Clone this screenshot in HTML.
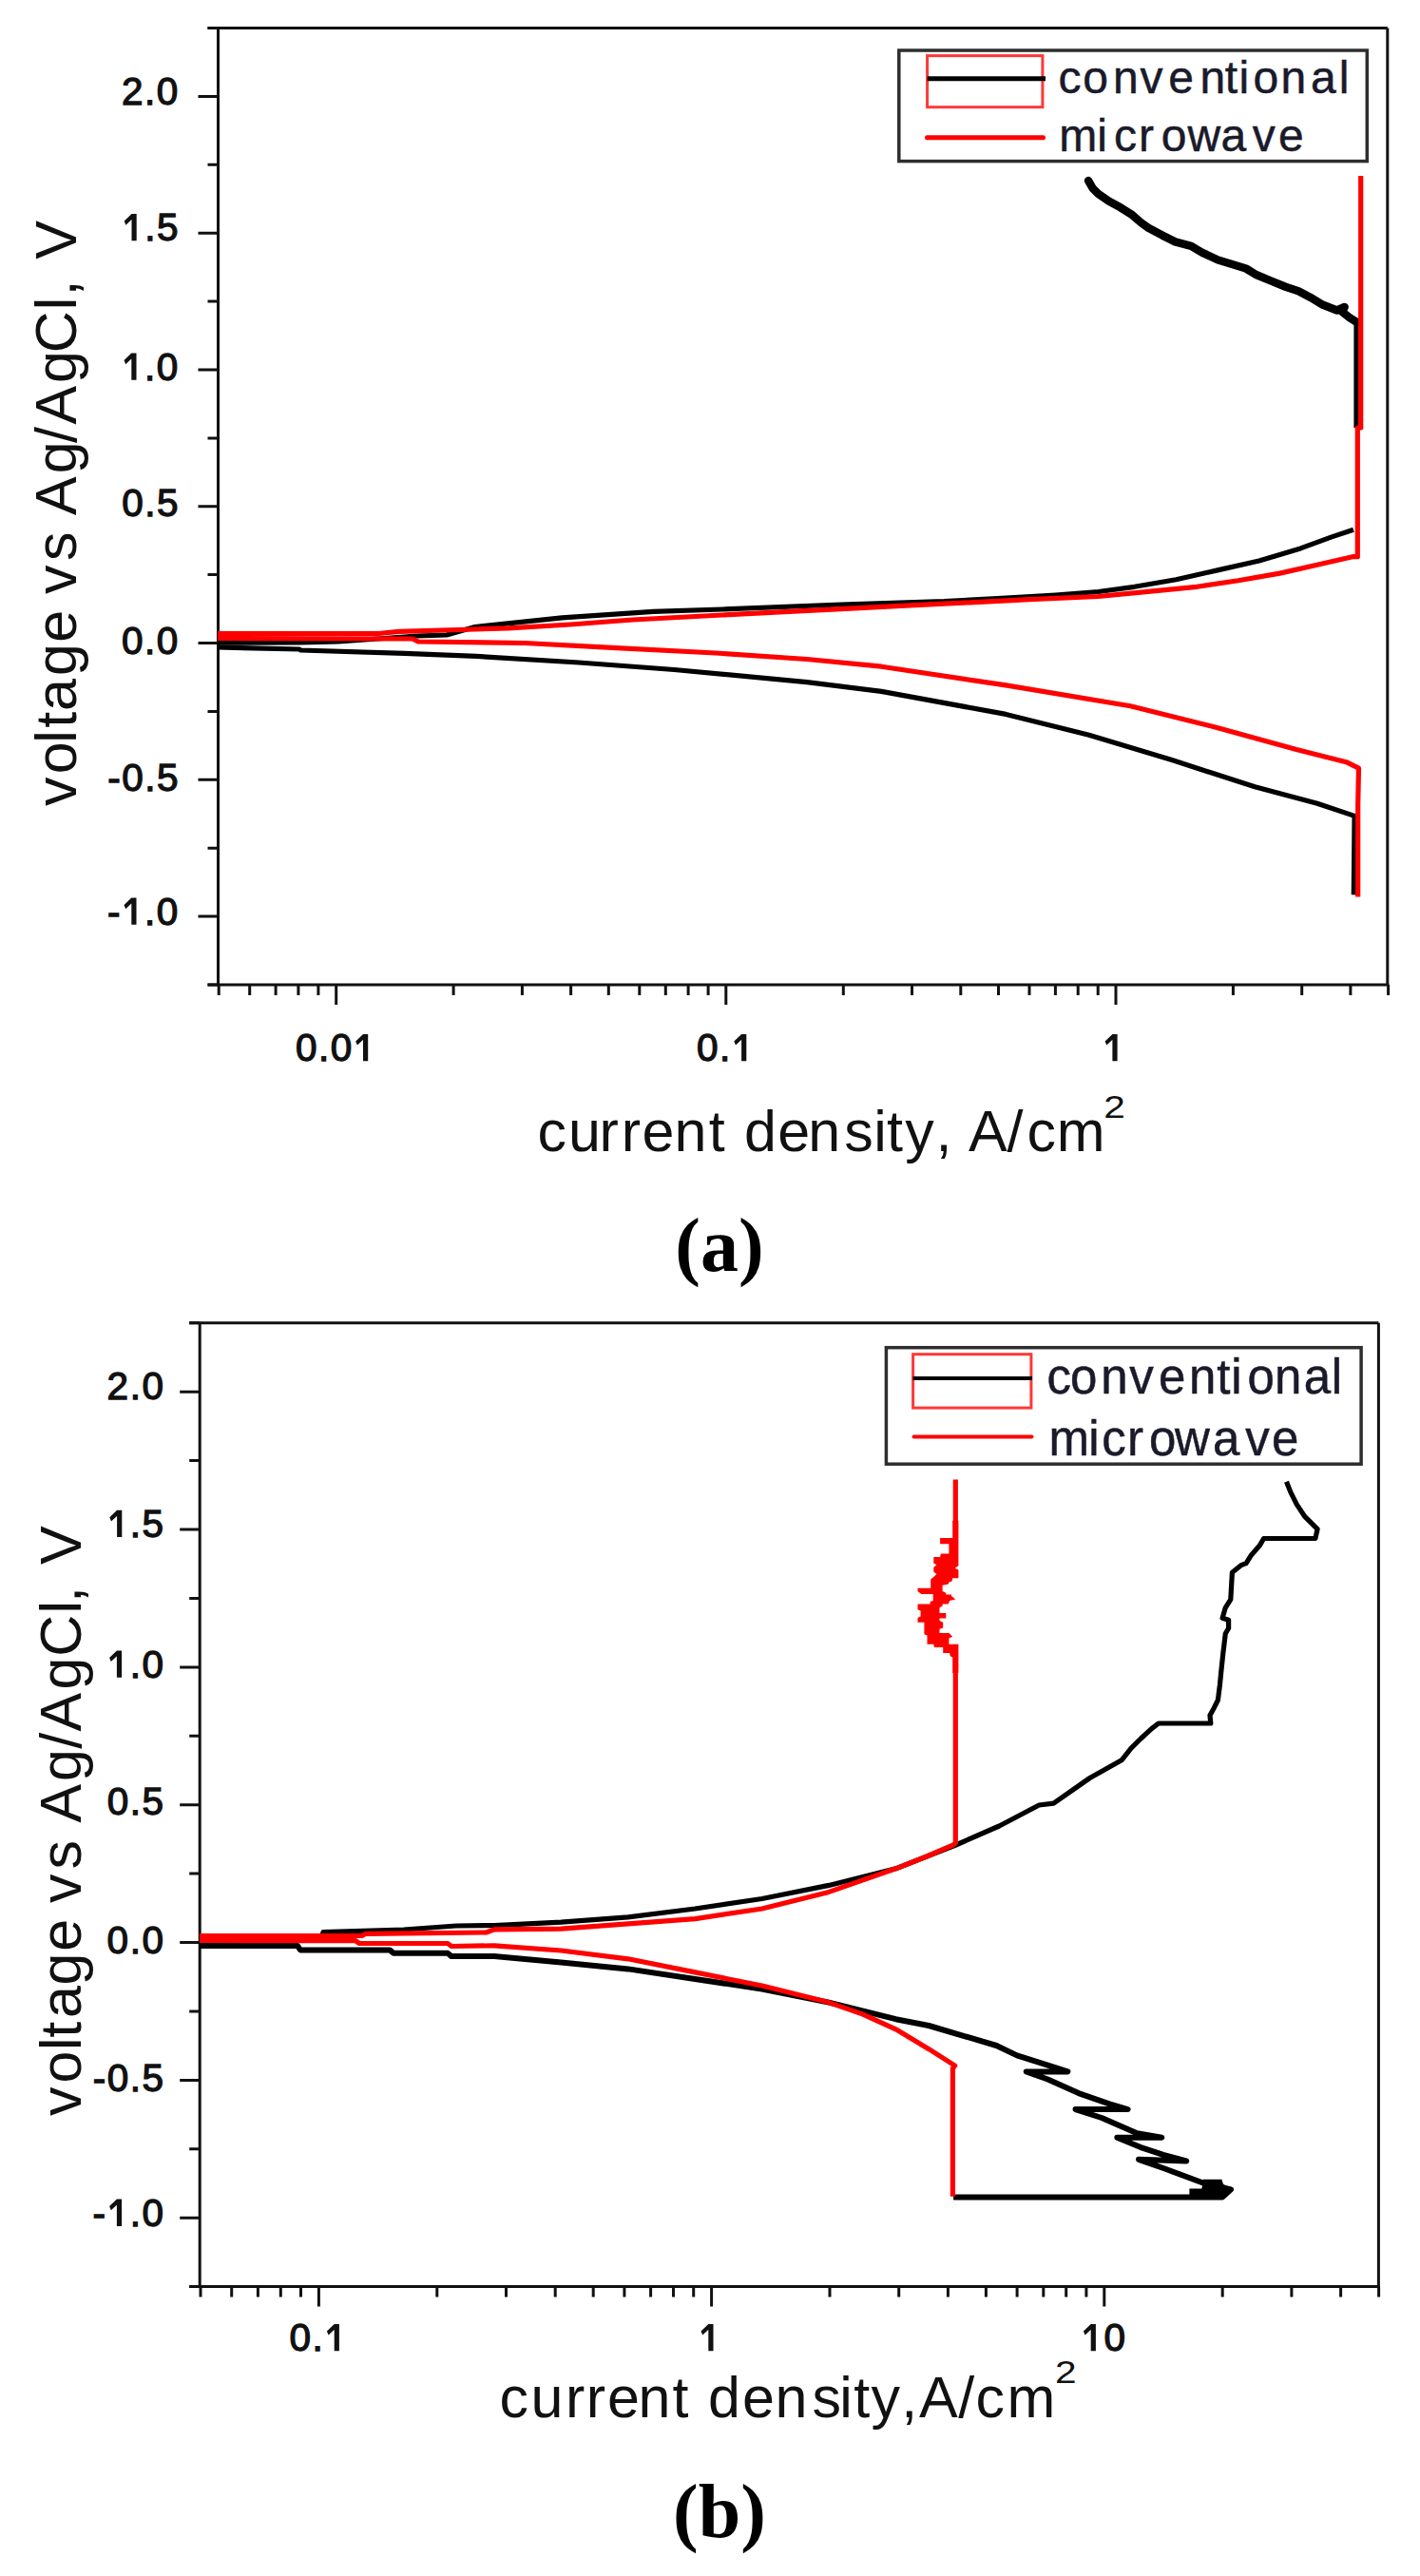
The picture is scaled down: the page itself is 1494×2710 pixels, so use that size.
<!DOCTYPE html>
<html><head><meta charset="utf-8"><style>
html,body{margin:0;padding:0;background:#fff;}
svg{display:block;}
.tl{font-family:"Liberation Sans",sans-serif;font-size:40.5px;fill:#111;stroke:#111;stroke-width:1.3px;}
.at{font-family:"Liberation Sans",sans-serif;font-size:61px;fill:#111;}
.yt{font-size:63.5px;}
.sup{font-family:"Liberation Sans",sans-serif;font-size:32.5px;fill:#111;}
.lg{font-family:"Liberation Sans",sans-serif;font-size:46px;fill:#1a1a2a;stroke:#1a1a2a;stroke-width:0.5px;}
.pl{font-family:"Liberation Serif",serif;font-weight:bold;font-size:80px;fill:#000;}
</style></head><body>
<svg width="1494" height="2710" viewBox="0 0 1494 2710">
<rect width="1494" height="2710" fill="#fff"/>
<path d="M229.5,29.5V1036M1459.8,29.5V1036" stroke="#111" stroke-width="3" fill="none"/>
<path d="M218.5,29.5H1459.8M218.5,1036H1461.3" stroke="#111" stroke-width="3" fill="none"/>
<path d="M218.5,1036H229.5M208.5,964.1H229.5M218.5,892.2H229.5M208.5,820.3H229.5M218.5,748.4H229.5M208.5,676.5H229.5M218.5,604.6H229.5M208.5,532.8H229.5M218.5,460.9H229.5M208.5,389H229.5M218.5,317.1H229.5M208.5,245.2H229.5M218.5,173.3H229.5M208.5,101.4H229.5M218.5,29.5H229.5" stroke="#111" stroke-width="3" fill="none"/>
<path d="M230.2,1036V1047M262.7,1036V1047M290.1,1036V1047M313.9,1036V1047M334.9,1036V1047M353.7,1036V1057M477.1,1036V1047M549.4,1036V1047M600.6,1036V1047M640.3,1036V1047M672.8,1036V1047M700.3,1036V1047M724.1,1036V1047M745.1,1036V1047M763.8,1036V1057M887.3,1036V1047M959.5,1036V1047M1010.8,1036V1047M1050.5,1036V1047M1083,1036V1047M1110.4,1036V1047M1134.2,1036V1047M1155.2,1036V1047M1174,1036V1057M1297.4,1036V1047M1369.7,1036V1047M1420.9,1036V1047M1460.6,1036V1047" stroke="#111" stroke-width="3" fill="none"/>
<text class="tl" x="128.0 152.1 164.8" y="109.5">2.0</text>
<text class="tl" x="152.2 164.9" y="253.3">.5</text><path d="M138.5,225.0H143.7V253.3H138.5ZM138.5,225.0L140.0,229.6L132.4,236.7L130.7,232.5Z" fill="#111"/>
<text class="tl" x="152.1 164.8" y="399.8">.0</text><path d="M138.3,371.5H143.5V399.8H138.3ZM138.3,371.5L139.8,376.1L132.2,383.2L130.5,379.0Z" fill="#111"/>
<text class="tl" x="128.2 152.2 164.9" y="543.1">0.5</text>
<text class="tl" x="128.0 152.1 164.8" y="687.8">0.0</text>
<text class="tl" x="113.2 128.2 152.2 164.9" y="831.6">-0.5</text>
<text class="tl" x="113.0 152.1 164.8" y="972.8">-.0</text><path d="M138.3,944.5H143.5V972.8H138.3ZM138.3,944.5L139.8,949.1L132.2,956.2L130.5,952.0Z" fill="#111"/>
<text class="tl" x="310.9 334.9 347.7" y="1116.2">0.0</text><path d="M382.0,1087.9H387.2V1116.2H382.0ZM382.0,1087.9L383.5,1092.5L375.9,1099.6L374.2,1095.4Z" fill="#111"/>
<text class="tl" x="733.0 757.0" y="1116.2">0.</text><path d="M780.1,1087.9H785.3V1116.2H780.1ZM780.1,1087.9L781.6,1092.5L774.0,1099.6L772.3,1095.4Z" fill="#111"/>
<path d="M1170.4,1087.9H1175.6V1116.2H1170.4ZM1170.4,1087.9L1171.9,1092.5L1164.3,1099.6L1162.6,1095.4Z" fill="#111"/>
<polyline points="229,681 315,683 316.3,684 425.5,687.3 501,690.4 608.9,697 709.3,704.5 849,717.6 927.3,727.4 1058.3,751.4 1145.7,773.3 1233,799.5 1320.3,827.8 1385.9,845.3 1425.1,858.4 1424.3,941.4" fill="none" stroke="#000" stroke-width="5.2" stroke-linejoin="round" stroke-linecap="butt"/>
<polyline points="229,676.2 315,676 356,675 439,669 470,668 499.7,659.5 591.4,649.9 687.5,643.3 760,641 885,636 993.2,632.7 1054,629.3 1110.4,626 1155.5,622.5 1193.7,617.3 1237.3,609.7 1281,599.9 1324.7,590 1368.3,576.9 1401.1,564.9 1424,557.3" fill="none" stroke="#000" stroke-width="5.2" stroke-linejoin="round" stroke-linecap="butt"/>
<polyline points="1427.5,338.9 1420.2,334.4 1412,328 1414.6,323 1406.7,326.5 1392,320.8 1380.8,314.1 1366.1,306.2 1352.6,301.7 1335.7,294.9 1322.2,289.3 1310.9,282.5 1296.3,278 1281.5,273.5 1264.6,265.6 1253.3,258.9 1236.4,254.4 1222.9,247.6 1208.2,239.7 1200.4,234.1 1191.3,226.2 1178.9,218.3 1166.5,211.5 1155.3,203.7 1149.6,198 1145.1,190.1" fill="none" stroke="#000" stroke-width="8.5" stroke-linejoin="round" stroke-linecap="round"/>
<polyline points="1427,336 1427,450" fill="none" stroke="#000" stroke-width="5.2" stroke-linejoin="round" stroke-linecap="butt"/>
<polyline points="229,671.5 434,672 440,675 552,676.5 643.8,681.3 753,687 849,693.5 927.3,701.2 1058.3,720.9 1189.3,742.7 1276.7,764.5 1364,788.6 1416.4,801.7 1429.5,808.2 1428.7,847 1428.7,943.6" fill="none" stroke="#ff0000" stroke-width="5.2" stroke-linejoin="round" stroke-linecap="butt"/>
<polyline points="229,666.5 398,666.5 420,664.3 500,662 534.7,660.8 600,657 665.7,652 760,647 840,642.8 885,640.6 952.7,637.2 1020.3,633.8 1087.9,630.4 1155.5,627.5 1215.5,621.7 1259.2,617.3 1302.8,610.8 1346.5,603.1 1390.1,593.3 1422.9,585.7 1428.3,585.7 1428.3,450 1431.7,450 1431.7,185" fill="none" stroke="#ff0000" stroke-width="5.2" stroke-linejoin="round" stroke-linecap="butt"/>
<rect x="945.8" y="53" width="492.5" height="116.6" fill="#fff" stroke="#2e2e2e" stroke-width="3.5"/>
<rect x="975.6" y="58.6" width="121.3" height="54.1" fill="none" stroke="#ff3838" stroke-width="3"/>
<path d="M975.6,82.8H1100" stroke="#000" stroke-width="5"/>
<path d="M975.5,144.8H1097.5" stroke="#ff0000" stroke-width="5" stroke-linecap="round"/>
<text x="1113.6 1139.3 1170.9 1199.6 1229.3 1262.6 1288.8 1303.6 1318.4 1347.6 1378.9 1408.8" y="97.5" class="lg" style="font-size:48px">conventional</text>
<text x="1114.2 1154.3 1171.9 1197.9 1221.7 1249.5 1284.4 1317.8 1345.0" y="158.5" class="lg" style="font-size:48px">microwave</text>
<text x="565.6 598.1 630.4 653.7 675.5 709.5 745.7 762.7 783.1 818.2 850.2 888.3 919.3 932.9 952.3 984.4 1001.3 1019.0 1059.5 1080.5 1111.8" y="1211.2" class="at">current density, A/cm</text>
<text transform="translate(1172.6,1176) scale(1.25,1)" class="sup" text-anchor="middle">2</text>
<text transform="translate(79.8,870) rotate(-90)" class="at" x="21.9 55.7 88.2 104.2 122.0 159.0 194.2 228.2 245.1 279.9 310.4 328.1 371.8 404.0 423.5 466.9 498.7 543.8 558.4 575.3 597.3">voltage vs Ag/AgCl, V</text>
<text x="757" y="1336.6" class="pl" text-anchor="middle">(a)</text>
<path d="M210.2,1391.8V2405.6M1450.4,1391.8V2405.6" stroke="#111" stroke-width="3" fill="none"/>
<path d="M199.2,1391.8H1450.4M199.2,2405.6H1451.9" stroke="#111" stroke-width="3" fill="none"/>
<path d="M199.2,2405.6H210.2M189.2,2333.2H210.2M199.2,2260.8H210.2M189.2,2188.4H210.2M199.2,2115.9H210.2M189.2,2043.5H210.2M199.2,1971.1H210.2M189.2,1898.7H210.2M199.2,1826.3H210.2M189.2,1753.9H210.2M199.2,1681.4H210.2M189.2,1609H210.2M199.2,1536.6H210.2M189.2,1464.2H210.2M199.2,1391.8H210.2" stroke="#111" stroke-width="3" fill="none"/>
<path d="M211,2405.6V2416.6M243.7,2405.6V2416.6M271.4,2405.6V2416.6M295.3,2405.6V2416.6M316.5,2405.6V2416.6M335.4,2405.6V2426.6M459.8,2405.6V2416.6M532.5,2405.6V2416.6M584.2,2405.6V2416.6M624.2,2405.6V2416.6M656.9,2405.6V2416.6M684.6,2405.6V2416.6M708.5,2405.6V2416.6M729.7,2405.6V2416.6M748.6,2405.6V2426.6M873,2405.6V2416.6M945.7,2405.6V2416.6M997.4,2405.6V2416.6M1037.4,2405.6V2416.6M1070.1,2405.6V2416.6M1097.8,2405.6V2416.6M1121.7,2405.6V2416.6M1142.9,2405.6V2416.6M1161.8,2405.6V2426.6M1286.2,2405.6V2416.6M1358.9,2405.6V2416.6M1410.6,2405.6V2416.6M1450.6,2405.6V2416.6" stroke="#111" stroke-width="3" fill="none"/>
<text class="tl" x="112.6 136.7 149.4" y="1472.3">2.0</text>
<text class="tl" x="136.8 149.5" y="1617.1">.5</text><path d="M123.1,1588.8H128.3V1617.1H123.1ZM123.1,1588.8L124.6,1593.4L117.0,1600.5L115.3,1596.3Z" fill="#111"/>
<text class="tl" x="136.7 149.4" y="1764.7">.0</text><path d="M122.9,1736.4H128.1V1764.7H122.9ZM122.9,1736.4L124.4,1741.0L116.8,1748.1L115.1,1743.9Z" fill="#111"/>
<text class="tl" x="112.8 136.8 149.5" y="1909.0">0.5</text>
<text class="tl" x="112.6 136.7 149.4" y="2054.8">0.0</text>
<text class="tl" x="97.8 112.8 136.8 149.5" y="2199.7">-0.5</text>
<text class="tl" x="97.6 136.7 149.4" y="2341.9">-.0</text><path d="M122.9,2313.6H128.1V2341.9H122.9ZM122.9,2313.6L124.4,2318.2L116.8,2325.3L115.1,2321.1Z" fill="#111"/>
<text class="tl" x="304.6 328.6" y="2473.2">0.</text><path d="M351.7,2444.9H356.9V2473.2H351.7ZM351.7,2444.9L353.2,2449.5L345.6,2456.6L343.9,2452.4Z" fill="#111"/>
<path d="M745.3,2444.9H750.5V2473.2H745.3ZM745.3,2444.9L746.8,2449.5L739.2,2456.6L737.5,2452.4Z" fill="#111"/>
<text class="tl" x="1161.5" y="2473.2">0</text><path d="M1147.7,2444.9H1152.9V2473.2H1147.7ZM1147.7,2444.9L1149.2,2449.5L1141.6,2456.6L1139.9,2452.4Z" fill="#111"/>
<polyline points="210,2046.9 313,2047 316,2051.4 410,2051.4 414,2054.8 471,2054.8 475,2058.1 520,2058 590.4,2064.4 660.8,2071.4 731.3,2082 801.7,2092.5 872.1,2106.6 942.5,2124.2 977.2,2131 1048.4,2152 1070,2162.4 1100.8,2172.1 1123.4,2179.4 1079.7,2179.4 1102.4,2187.5 1134.8,2202.1 1167.2,2213.4 1186.6,2219.1 1131.5,2219.1 1159.1,2228 1196.3,2244.2 1222.3,2248.8 1175.3,2248.8 1199.6,2258.8 1223.9,2266.9 1248.2,2273.4 1198,2271.8 1225.5,2281.5 1264.4,2296 1295.1,2303.3 1286,2311.4 1003.1,2311.4" fill="none" stroke="#000" stroke-width="6" stroke-linejoin="round" stroke-linecap="butt"/>
<polyline points="210,2042 338,2040 340,2032.7 424.7,2030 480,2026 520,2025.6 590.4,2022.1 660.8,2016.8 731.3,2008 801.7,1997.5 872.1,1983.4 942.5,1965.8 1005.6,1941 1051.3,1921 1093.2,1899 1108.5,1897.1 1146.6,1870.5 1180,1851.8 1190.1,1839.2 1200.3,1829 1211.3,1818.9 1218.9,1813 1273.8,1813 1273,1804.5 1277.2,1796.9 1281.4,1788.5 1283.4,1772.8 1285,1756.5 1286.6,1741.3 1289.3,1718.5 1292.6,1713 1292.6,1704.3 1286.1,1702.2 1289.3,1691.3 1294.8,1682.6 1296.4,1654.3 1305.7,1646.7 1311.1,1644.6 1316.5,1635.9 1325.2,1626.1 1329.6,1618.5 1383.9,1618.5 1386.1,1608.7 1373,1595.7 1364.3,1582.6 1357.8,1569.6 1353.5,1558.7" fill="none" stroke="#000" stroke-width="5.2" stroke-linejoin="round" stroke-linecap="butt"/>
<polygon points="1251.4,2302.5 1264.4,2302.5 1266,2292.8 1285.4,2292.8 1287,2297.7 1296,2303.3 1287,2309 1286.2,2313.9 1251.4,2313.9" fill="#000"/>
<polyline points="210,2041.5 374,2041.7 378,2044.5 471,2044.5 475,2047.5 520,2046.8 590.4,2052 660.8,2060.8 731.3,2074.9 801.7,2089 872.1,2106.6 907.3,2118.9 942.5,2134.8 977.7,2155.9 1004.7,2173.1 1002.4,2176.3 1002.4,2310.8" fill="none" stroke="#ff0000" stroke-width="5.2" stroke-linejoin="round" stroke-linecap="butt"/>
<polyline points="210,2036.5 380.8,2036.5 385,2034.3 511.5,2033 520,2029.9 590.4,2029.2 660.8,2023.9 731.3,2018.6 801.7,2008 872.1,1990.4 942.5,1965.8 975,1953 1002.4,1941.1 1005.3,1939.2 1005.3,1758" fill="none" stroke="#ff0000" stroke-width="5.2" stroke-linejoin="round" stroke-linecap="butt"/>
<polygon points="1002.2,1600 1002.2,1618 989.1,1618 989.1,1624.2 998.4,1624.2 998.4,1634.5 989.8,1634.5 989.1,1637.9 982.3,1637.9 982.3,1644.7 985.4,1646 982.3,1649.1 982.3,1653.4 985.4,1655.9 982.3,1659 979.2,1661.5 979.2,1670.8 965.5,1670.8 965.5,1673.9 969.3,1677 981.7,1677 981.7,1683.9 978.6,1685.1 978.6,1687.6 965.5,1687.6 965.5,1693.2 968.6,1694.4 968.6,1700.6 965.5,1701.9 965.5,1706.8 972.4,1706.8 972.4,1719.3 975.5,1720.5 975.5,1729.8 982.3,1729.8 982.9,1732.9 992.2,1732.9 992.2,1739.1 999.1,1739.1 999.7,1742.2 1002.2,1743.5 1002.2,1760 1008.4,1760 1008.4,1729.8 998.4,1729.8 998.4,1723.6 1002.2,1721.7 998.4,1718 988.5,1718 988.5,1713.7 992.2,1712.4 992.2,1706.8 988.5,1705 988.5,1702.5 995.3,1702.5 995.3,1696.9 988.5,1696.9 988.5,1691.3 991.6,1689.4 991.6,1687.6 997.8,1687.6 999.1,1683.9 1005.3,1682.6 1000.9,1678.9 1000.9,1677.6 995.3,1677.6 995.3,1675.8 991.6,1673.9 991.6,1667.7 997.8,1666.5 998.4,1664.6 1001.6,1663.4 1002.2,1660.2 1008.4,1660.2 1008.4,1651.6 1004.7,1649.7 1008.4,1647.2 1008.4,1600" fill="#ff0000"/>
<polyline points="1005.3,1602 1005.3,1556.5" fill="none" stroke="#ff0000" stroke-width="5.2" stroke-linejoin="round" stroke-linecap="butt"/>
<rect x="932.4" y="1417.7" width="499.7" height="122.5" fill="#fff" stroke="#2e2e2e" stroke-width="3.5"/>
<rect x="960.6" y="1424.7" width="124.3" height="56.4" fill="none" stroke="#ff3838" stroke-width="3"/>
<path d="M960.6,1450.1H1086" stroke="#000" stroke-width="4"/>
<path d="M961.5,1511.5H1085.5" stroke="#ff0000" stroke-width="4" stroke-linecap="round"/>
<text x="1101.6 1125.9 1158.2 1188.2 1219.1 1251.1 1280.2 1295.2 1312.6 1341.1 1371.8 1400.7" y="1466.3" class="lg" style="font-size:51px">conventional</text>
<text x="1103.6 1145.2 1159.2 1186.1 1208.9 1235.9 1276.0 1310.3 1338.1" y="1530.5" class="lg" style="font-size:51px">microwave</text>
<text x="525.6 558.5 595.1 616.8 639.0 671.4 707.6 724.6 745.1 780.9 815.6 854.5 883.2 898.3 916.5 948.3 967.0 1008.3 1026.6 1059.5" y="2542.5" class="at">current density,A/cm</text>
<text transform="translate(1121.4,2507) scale(1.25,1)" class="sup" text-anchor="middle">2</text>
<text transform="translate(85.3,2250) rotate(-90)" class="at" x="24.0 58.4 92.9 106.3 127.1 161.6 197.2 231.2 248.0 283.6 314.1 332.5 375.9 410.2 428.4 472.5 507.3 552.4 564.0 580.9 603.9">voltage vs Ag/AgCl, V</text>
<text x="757" y="2669.2" class="pl" text-anchor="middle">(b)</text>
</svg>
</body></html>
